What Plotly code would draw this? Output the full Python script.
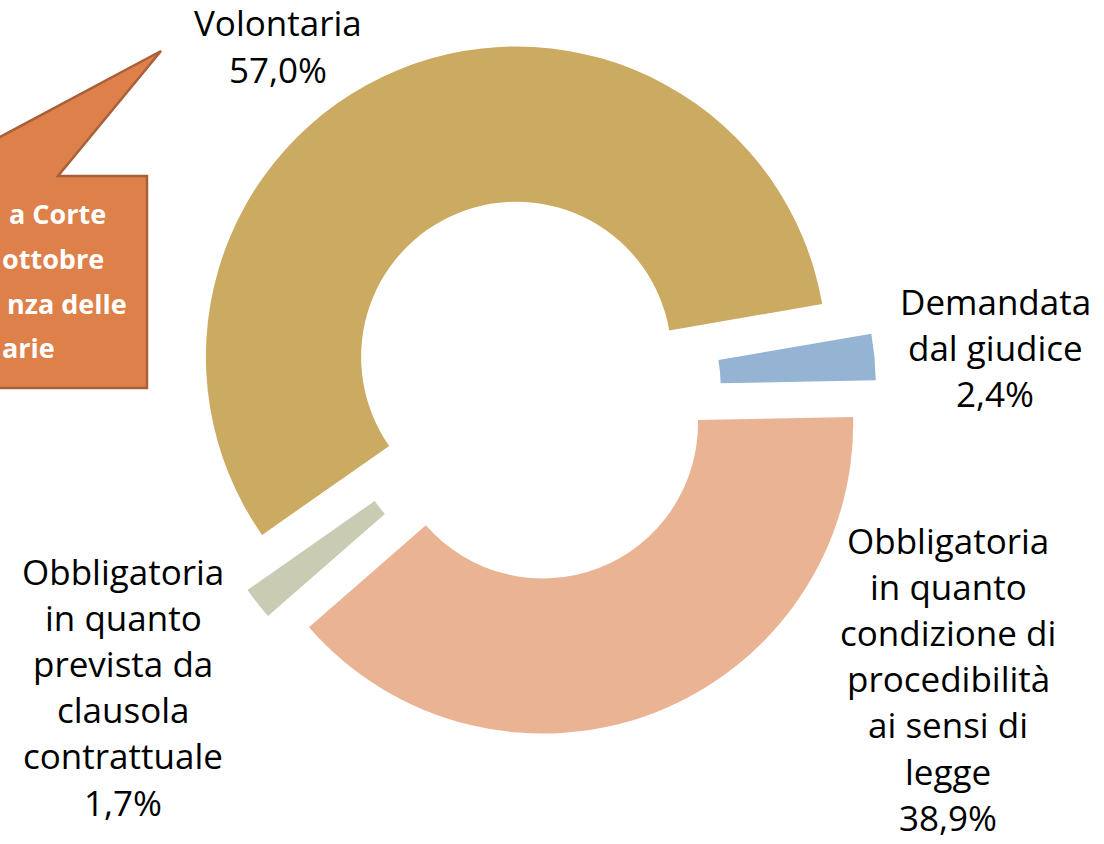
import plotly.graph_objects as go

# ---- data ----
categories = [
    "Volontaria",
    "Demandata dal giudice",
    "Obbligatoria in quanto condizione di procedibilità ai sensi di legge",
    "Obbligatoria in quanto prevista da clausola contrattuale",
]
values = [57.0, 2.4, 38.9, 1.7]
label_lines = [
    ["Volontaria"],
    ["Demandata", "dal giudice"],
    ["Obbligatoria", "in quanto", "condizione di", "procedibilità", "ai sensi di", "legge"],
    ["Obbligatoria", "in quanto", "prevista da", "clausola", "contrattuale"],
]
callout_lines = ["a Corte", "ottobre", "nza delle", "arie"]

# ---- style ----
W, H = 1104, 844
colors = ["#CBAA62", "#95B3D3", "#EAB494", "#C9CCB3"]
label_x = [278, 995, 948, 123]          # pixel center x of each label block
label_top = [24, 302, 541, 572]         # pixel y of first line
label_gap = [46.0, 46.2, 46.2, 46.2]
FONT = "Open Sans"


def px(x):
    return x / W


def py(y):
    return 1 - y / H


fig = go.Figure()
fig.add_trace(go.Pie(
    labels=categories,
    values=values,
    marker=dict(colors=colors, line=dict(width=0)),
    hole=0.5,
    pull=0.115,
    sort=False,
    direction="clockwise",
    rotation=235,
    textinfo="none",
    hoverinfo="label+percent",
    showlegend=False,
    domain=dict(x=[0.1665, 0.7935], y=[0.1271, 0.9490]),
))

annotations = []
for lines, v, cx, ty, gap in zip(label_lines, values, label_x, label_top, label_gap):
    all_lines = lines + [f"{v:.1f}".replace(".", ",") + "%"]
    for i, t in enumerate(all_lines):
        annotations.append(dict(
            x=px(cx), y=py(ty + i * gap), xref="paper", yref="paper",
            text=t, showarrow=False, xanchor="center", yanchor="middle",
            yshift=1, borderpad=0,
            font=dict(family=FONT, size=35, color="#000000"),
        ))

# callout shape (speech bubble) partly outside the left edge
pts = [(161, 51), (58, 176), (147, 176), (147, 388), (-400, 388), (-400, 176), (-73, 176)]
path = "M " + " L ".join(f"{px(x):.5f},{py(y):.5f}" for x, y in pts) + " Z"
shapes = [dict(type="path", xref="paper", yref="paper", path=path,
               fillcolor="#DE8049", line=dict(color="#A9603A", width=2.5), layer="above")]

callout_right = [105, 103, 126, 54]
callout_y = [212, 257, 302, 346]
for t, xr, yc in zip(callout_lines, callout_right, callout_y):
    annotations.append(dict(
        x=px(xr), y=py(yc), xref="paper", yref="paper",
        text=f"<b>{t}</b>", showarrow=False, xanchor="right", yanchor="middle",
        xshift=2, yshift=-1, borderpad=0,
        font=dict(family=FONT, size=27, color="#FFFFFF"),
    ))

fig.update_layout(
    width=W, height=H,
    margin=dict(l=0, r=0, t=0, b=0),
    paper_bgcolor="#FFFFFF", plot_bgcolor="#FFFFFF",
    shapes=shapes, annotations=annotations,
)

fig.write_html(
    "out.html",
    config={"displayModeBar": False},
    post_script="document.body.style.margin='0';document.body.style.overflow='hidden';",
)
